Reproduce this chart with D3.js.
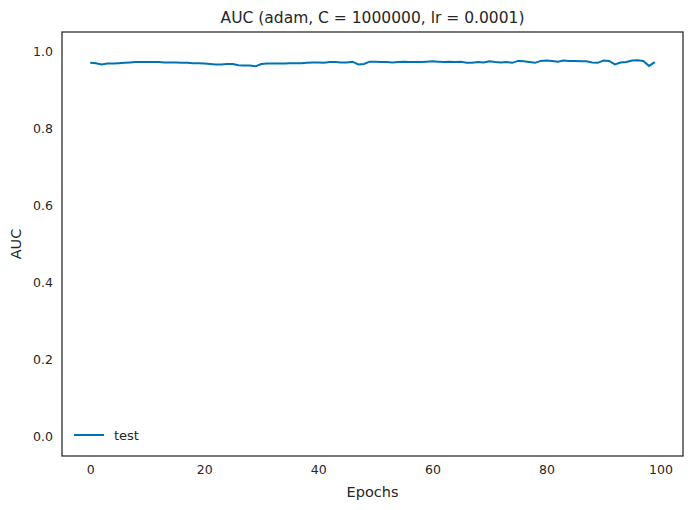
<!DOCTYPE html>
<html><head><meta charset="utf-8">
<script src="https://cdn.jsdelivr.net/npm/d3@7"></script>
<style>body{margin:0;background:#fff}text{font-family:"DejaVu Sans",sans-serif;fill:#262626}</style>
</head><body><div id="chart"></div>
<script>
var title = "AUC (adam, C = 1000000, lr = 0.0001)";
var xTicks = [0, 20, 40, 60, 80, 100];
var yTicks = [0.0, 0.2, 0.4, 0.6, 0.8, 1.0];
var testAuc = [
 0.970,0.969,0.966,0.968,0.968,0.969,0.970,0.971,0.972,0.972,
 0.972,0.972,0.972,0.971,0.971,0.971,0.970,0.970,0.969,0.969,
 0.968,0.967,0.966,0.966,0.967,0.967,0.964,0.963,0.963,0.961,
 0.967,0.968,0.968,0.968,0.968,0.969,0.969,0.969,0.970,0.971,
 0.971,0.970,0.972,0.972,0.971,0.971,0.973,0.966,0.967,0.973,
 0.973,0.972,0.972,0.971,0.972,0.973,0.972,0.972,0.972,0.973,
 0.974,0.973,0.972,0.973,0.972,0.973,0.970,0.970,0.972,0.971,
 0.974,0.972,0.971,0.972,0.970,0.975,0.974,0.972,0.970,0.975,
 0.976,0.975,0.973,0.976,0.975,0.975,0.974,0.974,0.971,0.970,
 0.976,0.975,0.966,0.971,0.972,0.976,0.977,0.975,0.962,0.972];

var W = 692, H = 510;
var m = {l: 62, r: 9, t: 32, b: 54};
var svg = d3.select("#chart").append("svg").attr("width", W).attr("height", H);

var x = d3.scaleLinear().domain([-4.95, 103.95]).range([m.l, W - m.r]);
var y = d3.scaleLinear().domain([-0.05, 1.05]).range([H - m.b, m.t]);

var g = svg.append("g");
g.append("g").attr("transform", "translate(0," + (H - m.b) + ")")
  .call(d3.axisBottom(x).tickValues(xTicks).tickSize(0).tickPadding(9).tickFormat(d3.format("d")))
  .call(a => a.select(".domain").remove())
  .selectAll("text").attr("font-size", 12.5);
g.append("g").attr("transform", "translate(" + m.l + ",0)")
  .call(d3.axisLeft(y).tickValues(yTicks).tickSize(0).tickPadding(9).tickFormat(d3.format(".1f")))
  .call(a => a.select(".domain").remove())
  .selectAll("text").attr("font-size", 12.5);

svg.append("path").datum(testAuc)
  .attr("fill", "none").attr("stroke", "#0072b2").attr("stroke-width", 2)
  .attr("d", d3.line().x((d, i) => x(i)).y(d => y(d)));

svg.append("rect").attr("x", m.l).attr("y", m.t)
  .attr("width", W - m.l - m.r).attr("height", H - m.t - m.b)
  .attr("fill", "none").attr("stroke", "#262626").attr("stroke-width", 1.25);

svg.append("text").attr("x", (m.l + W - m.r) / 2).attr("y", 23)
  .attr("text-anchor", "middle").attr("font-size", 15.5).text(title);
svg.append("text").attr("x", (m.l + W - m.r) / 2).attr("y", 497)
  .attr("text-anchor", "middle").attr("font-size", 14.5).text("Epochs");
svg.append("text").attr("transform", "translate(21," + ((m.t + H - m.b) / 2) + ") rotate(-90)")
  .attr("text-anchor", "middle").attr("font-size", 14.5).text("AUC");

svg.append("line").attr("x1", 74).attr("x2", 104).attr("y1", 435).attr("y2", 435)
  .attr("stroke", "#0072b2").attr("stroke-width", 2);
svg.append("text").attr("x", 114).attr("y", 440).attr("font-size", 13).text("test");
</script></body></html>
